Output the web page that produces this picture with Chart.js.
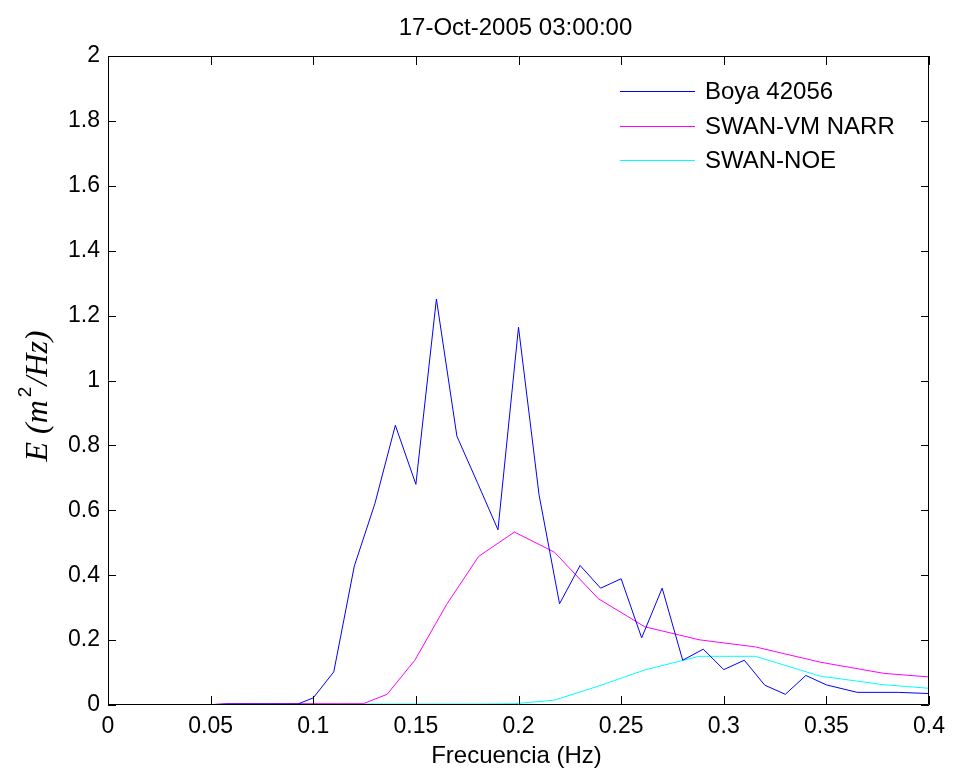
<!DOCTYPE html>
<html>
<head>
<meta charset="utf-8">
<script src="https://cdn.jsdelivr.net/npm/chart.js@4.4.1/dist/chart.umd.min.js"></script>
<style>
  html, body { margin: 0; padding: 0; background: #ffffff; }
  #wrap { width: 953px; height: 770px; position: relative; }
</style>
</head>
<body>
<div id="wrap"><canvas id="c" width="953" height="770"></canvas></div>
<script>
// ---- Data ----
const chartTitle = "17-Oct-2005 03:00:00";
const xLabel = "Frecuencia (Hz)";
const seriesNames = ["Boya 42056", "SWAN-VM NARR", "SWAN-NOE"];
const seriesColors = ["#0000ff", "#ff00ff", "#00ffff"];

// Buoy (NDBC) frequencies and energy
const freqBuoy = [0.02, 0.0325, 0.0375, 0.0425, 0.0475, 0.0525, 0.0575, 0.0625, 0.0675, 0.0725,
  0.0775, 0.0825, 0.0875, 0.0925, 0.10, 0.11, 0.12, 0.13, 0.14, 0.15, 0.16, 0.17, 0.18, 0.19,
  0.20, 0.21, 0.22, 0.23, 0.24, 0.25, 0.26, 0.27, 0.28, 0.29, 0.30, 0.31, 0.32, 0.33, 0.34,
  0.35, 0.365, 0.385, 0.405];
const eBuoy = [0, 0, 0, 0, 0, 0.002, 0.003, 0.003, 0.003, 0.003,
  0.003, 0.003, 0.003, 0.003, 0.022, 0.102, 0.428, 0.62, 0.862, 0.68, 1.251, 0.828, 0.685, 0.54,
  1.164, 0.648, 0.312, 0.43, 0.36, 0.389, 0.207, 0.36, 0.138, 0.172, 0.109, 0.138, 0.061, 0.033, 0.091,
  0.062, 0.039, 0.039, 0.034];

// Model (SWAN) frequencies and energy
const freqModel = [0.0485, 0.0532, 0.0584, 0.0641, 0.0703, 0.0771, 0.0846, 0.0928, 0.1018, 0.1117,
  0.1244, 0.136, 0.1495, 0.165, 0.1806, 0.198, 0.2175, 0.2388, 0.2615, 0.288, 0.3154, 0.347, 0.378, 0.415];
const eNarr = [0, 0.002, 0.004, 0.004, 0.004, 0.004, 0.004, 0.004, 0.004, 0.004,
  0.004, 0.033, 0.138, 0.31, 0.458, 0.533, 0.471, 0.328, 0.241, 0.201, 0.179, 0.132, 0.0975, 0.079];
const eNoe = [0, 0.001, 0.002, 0.003, 0.003, 0.003, 0.003, 0.003, 0.003, 0.003,
  0.003, 0.003, 0.003, 0.003, 0.003, 0.004, 0.015, 0.058, 0.108, 0.15, 0.15, 0.089, 0.0625, 0.044];

const xTicksMin = 0, xTicksMax = 0.4, xStep = 0.05;
const yTicksMin = 0, yTicksMax = 2, yStep = 0.2;

// ---- Build datasets ----
function pts(xs, ys) { return xs.map((x, i) => ({ x: x, y: ys[i] })); }
const datasets = [
  { label: seriesNames[0], data: pts(freqBuoy, eBuoy), borderColor: seriesColors[0] },
  { label: seriesNames[1], data: pts(freqModel, eNarr), borderColor: seriesColors[1] },
  { label: seriesNames[2], data: pts(freqModel, eNoe), borderColor: seriesColors[2] }
].map(d => Object.assign(d, { borderWidth: 1, pointRadius: 0, tension: 0, fill: false, backgroundColor: d.borderColor }));

const SANS = "'Liberation Sans', Arial, sans-serif";
const SERIF = "'Liberation Serif', 'Times New Roman', serif";

const matlabAxes = {
  id: 'matlabAxes',
  afterDatasetsDraw(chart) {
    const ctx = chart.ctx;
    const a = chart.chartArea;
    const xs = chart.scales.x, ys = chart.scales.y;
    ctx.save();
    ctx.strokeStyle = '#000000';
    ctx.lineWidth = 1;
    // box
    ctx.beginPath();
    ctx.rect(Math.round(a.left) + 0.5, Math.round(a.top) + 0.5,
             Math.round(a.right - a.left) - 1, Math.round(a.bottom - a.top) - 1);
    ctx.stroke();
    // inward ticks
    ctx.beginPath();
    xs.ticks.forEach(t => {
      const px = Math.round(xs.getPixelForValue(t.value)) + 0.5;
      ctx.moveTo(px, a.bottom); ctx.lineTo(px, a.bottom - 9);
      ctx.moveTo(px, a.top); ctx.lineTo(px, a.top + 9);
    });
    ys.ticks.forEach(t => {
      const py = Math.round(ys.getPixelForValue(t.value)) + 0.5;
      ctx.moveTo(a.left, py); ctx.lineTo(a.left + 8, py);
      ctx.moveTo(a.right, py); ctx.lineTo(a.right - 8, py);
    });
    ctx.stroke();
    ctx.restore();
  },
  afterDraw(chart) {
    const ctx = chart.ctx;
    const a = chart.chartArea;
    ctx.save();
    ctx.fillStyle = '#000000';
    // title
    ctx.font = "24px " + SANS;
    ctx.textAlign = 'center';
    ctx.textBaseline = 'alphabetic';
    ctx.fillText(chartTitle, (a.left + a.right) / 2 - 3, 35);
    // x label
    ctx.fillText(xLabel, (a.left + a.right) / 2 - 2, 763);
    // y label, rotated, mixed fonts
    const parts = [
      { t: "E (m", f: "italic 32px " + SERIF, dy: 0, gap: 3 },
      { t: "2", f: "19px " + SANS, dy: -16, gap: 1 },
      { t: "/Hz)", f: "italic 32px " + SERIF, dy: 0, gap: 0 }
    ];
    let total = 0;
    parts.forEach(p => { ctx.font = p.f; p.w = ctx.measureText(p.t).width; total += p.w + p.gap; });
    ctx.translate(47, 396);
    ctx.rotate(-Math.PI / 2);
    ctx.textAlign = 'left';
    let cx = -total / 2;
    parts.forEach(p => { ctx.font = p.f; ctx.fillText(p.t, cx, p.dy); cx += p.w + p.gap; });
    ctx.restore();

    // legend
    ctx.save();
    ctx.font = "24px " + SANS;
    ctx.textAlign = 'left';
    ctx.textBaseline = 'middle';
    const rows = [91, 126, 160];
    chart.data.datasets.forEach((d, i) => {
      const y = rows[i] + 0.5;
      ctx.strokeStyle = d.borderColor;
      ctx.lineWidth = 1;
      ctx.beginPath();
      ctx.moveTo(620, y); ctx.lineTo(695, y);
      ctx.stroke();
      ctx.fillStyle = '#000000';
      ctx.fillText(d.label, 705, rows[i] + 1);
    });
    ctx.restore();
  }
};

function fmt(v) { return String(+Number(v).toFixed(2)); }

new Chart(document.getElementById('c'), {
  type: 'line',
  data: { datasets: datasets },
  options: {
    responsive: false,
    animation: false,
    devicePixelRatio: 1,
    layout: { padding: { top: 56, right: 21, left: 0, bottom: 0 } },
    plugins: { legend: { display: false }, title: { display: false }, tooltip: { enabled: false } },
    scales: {
      x: {
        type: 'linear', min: xTicksMin, max: xTicksMax,
        grid: { display: true, drawOnChartArea: false, drawTicks: false },
        border: { display: false },
        ticks: { stepSize: xStep, padding: 8, color: '#000', font: { family: SANS, size: 23 }, callback: fmt, maxRotation: 0, autoSkip: false },
        afterFit: s => { s.height = 65; }
      },
      y: {
        type: 'linear', min: yTicksMin, max: yTicksMax,
        grid: { display: true, drawOnChartArea: false, drawTicks: false },
        border: { display: false },
        ticks: { stepSize: yStep, padding: 8, color: '#000', font: { family: SANS, size: 23 }, callback: fmt, autoSkip: false },
        afterFit: s => { s.width = 108; }
      }
    }
  },
  plugins: [matlabAxes]
});
</script>
</body>
</html>
